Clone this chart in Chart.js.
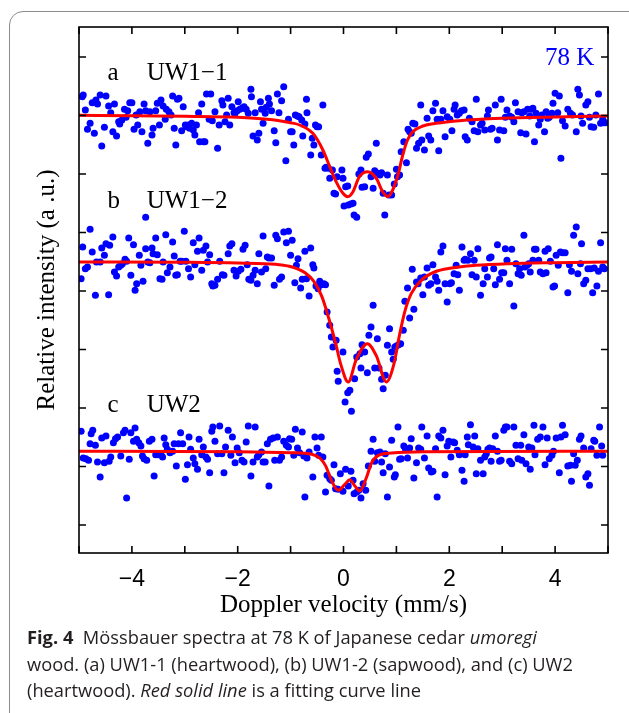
<!DOCTYPE html>
<html>
<head>
<meta charset="utf-8">
<script src="https://cdn.jsdelivr.net/npm/chart.js@4.4.0/dist/chart.umd.min.js"></script>
<style>
  html, body { margin: 0; padding: 0; background: #fff; }
  body { width: 629px; height: 713px; overflow: hidden; position: relative; }
  .box { position: absolute; left: 9px; top: 11px; width: 640px; height: 730px; border: 1.5px solid #8c8c8c; border-radius: 14px; box-sizing: border-box; }
  #chart { position: absolute; left: 0; top: 0; }
  .cap { position: absolute; left: 27px; top: 624px; font-family: "Open Sans", sans-serif; font-size: 18.3px; line-height: 26.5px; color: #231f20; white-space: nowrap; }
  .cap b { font-weight: 700; }
</style>
</head>
<body>
<div class="box"></div>
<canvas id="chart" width="629" height="625"></canvas>
<div class="cap"><b>Fig. 4</b>&nbsp; Mössbauer spectra at 78 K of Japanese cedar <i>umoregi</i><br>wood. (a) UW1-1 (heartwood), (b) UW1-2 (sapwood), and (c) UW2<br>(heartwood). <i>Red solid line</i> is a fitting curve line</div>
<script>
// ===== axis ticks =====
const xTicks = [-5, -4, -3, -2, -1, 0, 1, 2, 3, 4, 5];
const yTicks = [84, 259.5, 435, 610.5, 786, 961.5, 1137, 1312.5, 1488];

// ===== spectrum a : UW1-1 (velocity mm/s, intensity a.u.) =====
const specA = [
  [-4.94,1369],[-4.92,1374],[-4.88,1329],[-4.84,1271],[-4.79,1289],[-4.75,1351],[-4.71,1259],[-4.68,1359],
  [-4.65,1347],[-4.60,1374],[-4.57,1221],[-4.52,1277],[-4.49,1371],[-4.44,1341],[-4.40,1321],[-4.36,1264],
  [-4.33,1347],[-4.29,1251],[-4.25,1294],[-4.23,1287],[-4.19,1299],[-4.14,1331],[-4.11,1307],[-4.08,1327],
  [-4.04,1351],[-4.00,1351],[-3.96,1271],[-3.92,1314],[-3.89,1284],[-3.85,1324],[-3.81,1264],[-3.77,1347],
  [-3.74,1327],[-3.70,1229],[-3.66,1324],[-3.62,1254],[-3.60,1274],[-3.55,1327],[-3.52,1349],[-3.48,1284],
  [-3.45,1359],[-3.41,1341],[-3.37,1301],[-3.35,1331],[-3.30,1324],[-3.26,1314],[-3.23,1371],[-3.20,1274],
  [-3.17,1224],[-3.14,1361],[-3.11,1364],[-3.06,1267],[-3.03,1339],[-2.99,1284],[-2.97,1279],[-2.93,1284],
  [-2.91,1274],[-2.87,1289],[-2.84,1269],[-2.81,1254],[-2.78,1284],[-2.74,1321],[-2.72,1234],[-2.68,1347],
  [-2.65,1234],[-2.62,1234],[-2.59,1377],[-2.54,1301],[-2.51,1377],[-2.48,1297],[-2.43,1324],[-2.38,1214],
  [-2.35,1284],[-2.30,1357],[-2.28,1344],[-2.24,1294],[-2.21,1314],[-2.18,1364],[-2.15,1284],[-2.11,1339],
  [-2.07,1321],[-2.05,1319],[-2.01,1327],[-1.99,1354],[-1.96,1331],[-1.92,1334],[-1.88,1339],[-1.84,1331],
  [-1.80,1319],[-1.75,1391],[-1.74,1369],[-1.71,1251],[-1.67,1321],[-1.63,1239],[-1.60,1259],[-1.57,1354],
  [-1.55,1331],[-1.52,1289],[-1.48,1319],[-1.46,1337],[-1.42,1364],[-1.40,1347],[-1.36,1327],[-1.31,1267],
  [-1.28,1231],[-1.25,1377],[-1.22,1321],[-1.17,1357],[-1.13,1399],[-1.09,1177],[-1.04,1301],[-1.00,1264],
  [-0.97,1264],[-0.94,1224],[-0.91,1314],[-0.87,1311],[-0.84,1309],[-0.79,1299],[-0.77,1251],[-0.73,1287],
  [-0.70,1361],[-0.69,1321],[-0.62,1194],[-0.59,1244],[-0.56,1224],[-0.53,1284],[-0.50,1279],[-0.47,1279],
  [-0.42,1194],[-0.39,1344],[-0.35,1154],[-0.33,1157],[-0.29,1154],[-0.26,1124],[-0.21,1149],[-0.18,1079],
  [-0.15,1077],[-0.12,1129],[-0.03,1149],[-0.01,1124],[0.04,1099],[0.08,1101],[0.01,1041],[0.09,1044],
  [0.14,1047],[0.18,1049],[0.20,1014],[0.25,1007],[0.29,1137],[0.33,1149],[0.35,1097],[0.40,1099],
  [0.43,1187],[0.47,1197],[0.52,1129],[0.56,1094],[0.59,1147],[0.62,1229],[0.65,1139],[0.69,1134],
  [0.72,1141],[0.75,1079],[0.78,1014],[0.83,1134],[0.86,1074],[0.91,1074],[0.96,1107],[1.00,1151],
  [1.02,1129],[1.06,1134],[1.09,1204],[1.14,1234],[1.19,1171],[1.22,1271],[1.25,1264],[1.28,1259],
  [1.31,1289],[1.35,1287],[1.38,1214],[1.42,1229],[1.46,1344],[1.48,1239],[1.53,1209],[1.58,1304],
  [1.61,1251],[1.65,1239],[1.69,1327],[1.74,1349],[1.77,1301],[1.80,1207],[1.84,1301],[1.88,1327],
  [1.92,1249],[1.96,1309],[2.01,1301],[2.05,1267],[2.09,1331],[2.11,1344],[2.15,1314],[2.19,1319],
  [2.23,1327],[2.28,1329],[2.30,1249],[2.34,1239],[2.38,1304],[2.43,1294],[2.47,1267],[2.51,1361],
  [2.54,1264],[2.59,1284],[2.62,1289],[2.67,1269],[2.72,1311],[2.74,1329],[2.78,1271],[2.81,1274],
  [2.87,1344],[2.91,1239],[2.95,1269],[2.98,1361],[3.03,1267],[3.06,1307],[3.09,1329],[3.14,1311],
  [3.18,1307],[3.22,1294],[3.25,1351],[3.30,1324],[3.35,1261],[3.37,1321],[3.41,1324],[3.45,1257],
  [3.48,1331],[3.52,1311],[3.55,1331],[3.58,1334],[3.61,1234],[3.64,1319],[3.69,1284],[3.72,1301],
  [3.75,1314],[3.80,1264],[3.83,1324],[3.86,1304],[3.89,1307],[3.94,1319],[3.96,1349],[4.00,1379],
  [4.05,1321],[4.08,1371],[4.11,1184],[4.14,1297],[4.19,1281],[4.24,1331],[4.29,1319],[4.33,1314],
  [4.40,1264],[4.43,1391],[4.46,1374],[4.49,1311],[4.52,1289],[4.58,1344],[4.62,1354],[4.65,1307],
  [4.68,1279],[4.73,1277],[4.77,1314],[4.82,1377],[4.86,1289],[4.90,1301],[4.93,1291],[4.96,1291]
];
const fitA = [
  [-5,1313],[-4,1312],[-3,1310],[-2,1307],[-1.5,1302],[-1.21,1297],[-1.0,1291],[-0.83,1284],[-0.58,1259],
  [-0.39,1209],[-0.26,1159],[-0.14,1114],[-0.01,1079],[0.08,1069],[0.18,1084],[0.30,1129],[0.46,1144],
  [0.62,1124],[0.74,1084],[0.84,1069],[0.93,1089],[1.03,1134],[1.12,1194],[1.21,1239],[1.31,1264],
  [1.50,1281],[1.75,1289],[2.19,1297],[3,1304],[4,1308],[5,1311]
];

// ===== spectrum b : UW1-2 =====
const specB = [
  [-4.96,823],[-4.93,918],[-4.88,853],[-4.84,858],[-4.79,971],[-4.75,903],[-4.69,773],[-4.67,873],
  [-4.60,873],[-4.57,915],[-4.52,893],[-4.49,928],[-4.44,775],[-4.42,923],[-4.36,948],[-4.33,843],
  [-4.29,831],[-4.25,858],[-4.21,863],[-4.18,868],[-4.13,881],[-4.10,875],[-4.06,945],[-4.02,833],
  [-3.97,925],[-3.94,788],[-3.91,808],[-3.86,893],[-3.83,863],[-3.79,815],[-3.74,913],[-3.74,1007],
  [-3.70,873],[-3.66,871],[-3.62,915],[-3.60,898],[-3.55,945],[-3.52,895],[-3.47,823],[-3.43,821],
  [-3.41,873],[-3.36,955],[-3.33,841],[-3.28,858],[-3.23,933],[-3.20,891],[-3.17,833],[-3.14,835],
  [-3.09,875],[-3.06,875],[-3.01,965],[-2.98,875],[-2.93,853],[-2.89,828],[-2.84,931],[-2.81,865],
  [-2.76,905],[-2.73,945],[-2.68,848],[-2.65,908],[-2.60,921],[-2.57,873],[-2.53,895],[-2.49,808],
  [-2.47,801],[-2.43,803],[-2.38,821],[-2.34,875],[-2.29,835],[-2.26,833],[-2.18,898],[-2.15,921],
  [-2.11,928],[-2.07,848],[-2.03,831],[-1.99,845],[-1.94,851],[-1.90,911],[-1.86,923],[-1.82,865],
  [-1.79,821],[-1.75,818],[-1.71,833],[-1.67,848],[-1.63,808],[-1.60,898],[-1.55,843],[-1.52,951],
  [-1.47,853],[-1.44,888],[-1.41,885],[-1.36,885],[-1.31,803],[-1.28,953],[-1.25,943],[-1.21,821],
  [-1.17,828],[-1.13,963],[-1.08,931],[-1.04,965],[-1.00,893],[-0.97,938],[-0.92,811],[-0.89,863],
  [-0.86,883],[-0.81,795],[-0.78,821],[-0.73,905],[-0.70,823],[-0.65,771],[-0.62,915],[-0.58,865],
  [-0.56,855],[-0.52,801],[-0.48,793],[-0.45,815],[-0.42,805],[-0.37,808],[-0.34,805],[-0.31,723],
  [-0.26,683],[-0.23,648],[-0.20,618],[-0.14,638],[-0.12,545],[-0.10,515],[-0.01,603],[0.03,453],
  [0.08,481],[0.12,488],[0.15,425],[0.21,523],[0.25,588],[0.31,598],[0.33,555],[0.35,625],
  [0.40,603],[0.45,541],[0.48,653],[0.52,678],[0.56,743],[0.59,555],[0.64,643],[0.67,555],
  [0.72,521],[0.75,493],[0.79,533],[0.83,623],[0.87,673],[0.91,603],[0.94,581],[0.97,618],
  [1.00,621],[1.04,625],[1.08,628],[1.13,668],[1.16,755],[1.21,795],[1.25,705],[1.30,851],
  [1.33,731],[1.38,813],[1.41,808],[1.46,825],[1.50,775],[1.53,828],[1.58,855],[1.61,803],
  [1.65,808],[1.69,865],[1.74,828],[1.77,815],[1.80,788],[1.84,903],[1.88,921],[1.92,808],
  [1.96,753],[2.01,808],[2.04,811],[2.09,838],[2.13,863],[2.16,835],[2.19,788],[2.24,918],
  [2.28,878],[2.30,881],[2.35,878],[2.40,898],[2.43,835],[2.47,878],[2.51,828],[2.54,913],
  [2.59,773],[2.64,808],[2.67,853],[2.72,828],[2.76,885],[2.79,888],[2.84,853],[2.87,805],
  [2.91,925],[2.95,821],[2.99,841],[3.03,841],[3.06,913],[3.09,878],[3.14,808],[3.18,911],
  [3.22,741],[3.26,868],[3.30,838],[3.33,853],[3.36,833],[3.41,953],[3.43,858],[3.47,863],
  [3.50,868],[3.53,843],[3.58,878],[3.61,911],[3.64,911],[3.69,878],[3.72,843],[3.77,838],
  [3.81,905],[3.83,841],[3.87,913],[3.91,875],[3.96,798],[3.99,801],[4.02,893],[4.06,863],
  [4.10,903],[4.14,901],[4.19,901],[4.24,781],[4.27,865],[4.31,845],[4.35,953],[4.40,978],
  [4.43,838],[4.48,868],[4.50,928],[4.54,808],[4.58,818],[4.62,853],[4.67,853],[4.71,781],
  [4.74,855],[4.79,801],[4.82,845],[4.86,931],[4.90,858],[4.93,853]
];
const fitB = [
  [-5,873],[-3,872],[-2,870],[-1.28,866],[-0.97,858],[-0.72,840],[-0.56,815],[-0.41,770],[-0.28,705],
  [-0.15,630],[-0.05,565],[0.09,513],[0.24,580],[0.45,628],[0.62,592],[0.81,513],[0.95,565],[1.06,655],
  [1.16,725],[1.28,778],[1.47,818],[1.72,843],[2.04,855],[2.5,863],[3.1,868],[4,871],[5,873]
];

// ===== spectrum c : UW2 =====
const specC = [
  [-4.96,365],[-4.92,285],[-4.87,283],[-4.82,278],[-4.79,328],[-4.77,358],[-4.74,368],[-4.69,323],
  [-4.65,273],[-4.60,228],[-4.57,345],[-4.52,271],[-4.49,351],[-4.43,275],[-4.40,288],[-4.35,331],
  [-4.31,343],[-4.27,348],[-4.21,291],[-4.16,361],[-4.13,368],[-4.10,165],[-4.05,281],[-4.02,361],
  [-3.97,335],[-3.94,375],[-3.91,341],[-3.87,331],[-3.83,321],[-3.80,291],[-3.77,283],[-3.72,278],
  [-3.67,335],[-3.62,341],[-3.58,231],[-3.55,295],[-3.50,295],[-3.45,295],[-3.42,288],[-3.39,345],
  [-3.36,325],[-3.33,311],[-3.28,301],[-3.23,305],[-3.20,328],[-3.16,261],[-3.12,328],[-3.08,361],
  [-3.04,328],[-2.99,221],[-2.95,265],[-2.92,348],[-2.89,311],[-2.84,285],[-2.81,268],[-2.76,251],
  [-2.73,341],[-2.68,295],[-2.65,318],[-2.60,288],[-2.57,281],[-2.53,241],[-2.49,365],[-2.47,378],
  [-2.43,335],[-2.38,298],[-2.34,381],[-2.30,298],[-2.26,241],[-2.23,318],[-2.18,368],[-2.13,293],
  [-2.10,348],[-2.05,271],[-2.01,315],[-1.97,301],[-1.92,278],[-1.88,273],[-1.84,333],[-1.80,381],
  [-1.75,231],[-1.71,273],[-1.67,378],[-1.63,288],[-1.60,295],[-1.55,303],[-1.52,273],[-1.48,273],
  [-1.44,328],[-1.41,201],[-1.38,341],[-1.33,345],[-1.30,278],[-1.25,348],[-1.21,278],[-1.17,288],
  [-1.13,335],[-1.08,323],[-1.04,318],[-1.02,343],[-0.98,341],[-0.94,293],[-0.91,371],[-0.87,315],
  [-0.83,301],[-0.78,363],[-0.75,291],[-0.73,168],[-0.69,285],[-0.65,303],[-0.58,228],[-0.54,348],
  [-0.50,315],[-0.47,293],[-0.42,348],[-0.39,288],[-0.34,183],[-0.31,233],[-0.26,223],[-0.23,218],
  [-0.18,265],[-0.15,193],[-0.10,191],[-0.06,238],[-0.01,185],[0.04,251],[0.09,201],[0.14,245],
  [0.18,218],[0.20,178],[0.25,183],[0.29,188],[0.33,165],[0.37,208],[0.42,188],[0.47,261],
  [0.52,305],[0.56,341],[0.59,275],[0.64,301],[0.69,303],[0.72,273],[0.75,241],[0.79,298],
  [0.83,168],[0.87,258],[0.91,338],[0.96,228],[0.98,235],[1.03,378],[1.06,281],[1.09,283],
  [1.14,321],[1.17,313],[1.21,285],[1.25,315],[1.28,343],[1.33,225],[1.38,271],[1.42,315],
  [1.46,311],[1.48,378],[1.53,285],[1.58,351],[1.61,255],[1.66,243],[1.69,245],[1.74,313],
  [1.77,168],[1.80,351],[1.84,345],[1.88,368],[1.92,235],[1.96,321],[1.99,335],[2.03,288],
  [2.07,333],[2.10,331],[2.15,308],[2.19,295],[2.24,248],[2.28,215],[2.30,295],[2.34,348],
  [2.36,325],[2.40,385],[2.45,318],[2.48,351],[2.51,238],[2.54,313],[2.59,278],[2.64,238],
  [2.67,288],[2.70,298],[2.73,311],[2.76,315],[2.79,275],[2.82,313],[2.87,351],[2.91,305],
  [2.95,275],[2.98,278],[3.03,368],[3.06,378],[3.09,378],[3.14,275],[3.18,268],[3.22,378],
  [3.26,323],[3.30,283],[3.35,323],[3.37,278],[3.41,355],[3.45,268],[3.50,318],[3.53,251],
  [3.56,315],[3.60,383],[3.62,295],[3.67,341],[3.72,348],[3.77,378],[3.81,265],[3.85,345],
  [3.89,283],[3.94,293],[3.97,305],[4.02,345],[4.08,241],[4.11,348],[4.14,383],[4.19,355],
  [4.24,261],[4.29,263],[4.31,215],[4.35,298],[4.38,263],[4.42,278],[4.46,341],[4.49,351],
  [4.54,315],[4.58,228],[4.62,238],[4.65,203],[4.68,313],[4.73,338],[4.75,335],[4.79,293],
  [4.84,378],[4.88,321],[4.90,293]
];
const fitC = [
  [-5,305],[-2,304],[-1,301],[-0.6,296],[-0.45,285],[-0.34,262],[-0.22,215],[-0.1,188],[0.02,205],
  [0.12,220],[0.22,200],[0.31,186],[0.43,225],[0.53,270],[0.65,292],[0.91,300],[1.5,304],[5,305]
];

// ===== text inside the frame (data coordinates) =====
const notes = [
  { x: -4.46, y: 1419, text: 'a' }, { x: -3.72, y: 1419, text: 'UW1\u22121' },
  { x: -4.46, y: 1035, text: 'b' }, { x: -3.72, y: 1035, text: 'UW1\u22122' },
  { x: -4.46, y: 423, text: 'c' }, { x: -3.72, y: 423, text: 'UW2' },
  { x: 4.74, y: 1464, text: '78 K', color: '#0000ff', align: 'right' }
];

const toXY = arr => arr.map(([x, y]) => ({ x, y }));

const pointSet = (data) => ({
  data: toXY(data), showLine: false, order: 1,
  pointRadius: 3.5, pointHoverRadius: 3.5, pointBorderWidth: 0,
  pointBackgroundColor: '#0000ff', pointBorderColor: '#0000ff'
});
const fitSet = (data) => ({
  data: toXY(data), showLine: true, order: 0, pointRadius: 0,
  borderColor: '#ff0000', borderWidth: 3, cubicInterpolationMode: 'monotone', fill: false
});

// frame, inward ticks and panel labels
const framePlugin = {
  id: 'frame',
  afterDatasetsDraw(chart) {
    const { ctx, chartArea: a, scales: { x, y } } = chart;
    ctx.save();
    ctx.strokeStyle = '#000';
    ctx.lineWidth = 1.6;
    ctx.beginPath();
    xTicks.forEach(v => {
      const px = x.getPixelForValue(v);
      ctx.moveTo(px, a.bottom); ctx.lineTo(px, a.bottom - 7);
      ctx.moveTo(px, a.top); ctx.lineTo(px, a.top + 7);
    });
    yTicks.forEach(v => {
      const py = y.getPixelForValue(v);
      ctx.moveTo(a.left, py); ctx.lineTo(a.left + 7, py);
      ctx.moveTo(a.right, py); ctx.lineTo(a.right - 7, py);
    });
    ctx.stroke();
    ctx.strokeRect(a.left, a.top, a.right - a.left, a.bottom - a.top);

    ctx.font = '25px "Liberation Serif", serif';
    ctx.textBaseline = 'alphabetic';
    notes.forEach(n => {
      ctx.fillStyle = n.color || '#000';
      ctx.textAlign = n.align || 'left';
      ctx.fillText(n.text, x.getPixelForValue(n.x), y.getPixelForValue(n.y));
    });
    ctx.restore();
  }
};

new Chart(document.getElementById('chart'), {
  type: 'scatter',
  data: {
    datasets: [
      fitSet(fitA), fitSet(fitB), fitSet(fitC),
      pointSet(specA), pointSet(specB), pointSet(specC)
    ]
  },
  options: {
    responsive: false,
    animation: false,
    layout: { padding: { top: 27, right: 21, left: 0, bottom: 0 } },
    plugins: { legend: { display: false }, tooltip: { enabled: false } },
    scales: {
      x: {
        type: 'linear', min: -5, max: 5,
        grid: { display: false }, border: { display: false },
        afterFit: s => { s.height = 72; },
        ticks: {
          stepSize: 1, autoSkip: false, maxRotation: 0, padding: 5, color: '#000',
          font: { family: '"Liberation Sans", Arial, sans-serif', size: 23 },
          callback: v => (v % 2 === 0 && Math.abs(v) < 5) ? String(v).replace('-', '\u2212') : ''
        },
        title: {
          display: true, text: 'Doppler velocity (mm/s)', color: '#000',
          font: { family: '"Liberation Serif", serif', size: 25 },
          padding: { top: 0, bottom: 5 }
        }
      },
      y: {
        type: 'linear', min: 0, max: 1578,
        grid: { display: false }, border: { display: false },
        afterFit: s => { s.width = 79; },
        ticks: { display: false },
        title: {
          display: true, text: 'Relative intensity (a .u.)', color: '#000',
          font: { family: '"Liberation Serif", serif', size: 25 },
          padding: { top: 32, bottom: 0 }
        }
      }
    }
  },
  plugins: [framePlugin]
});
</script>
</body>
</html>
